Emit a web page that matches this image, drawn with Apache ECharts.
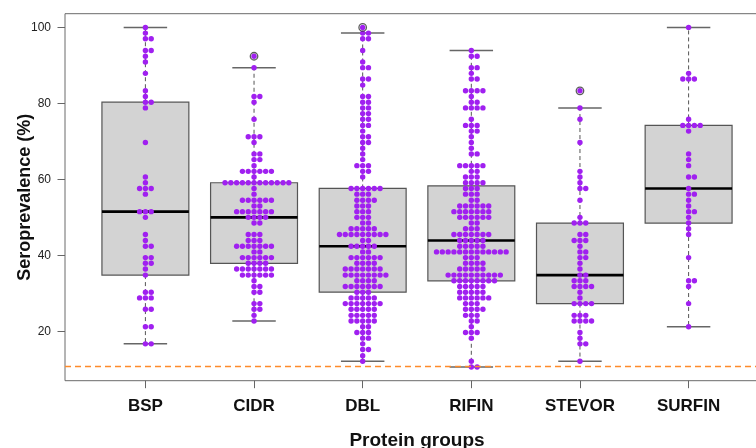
<!DOCTYPE html>
<html>
<head>
<meta charset="utf-8">
<script src="https://cdn.jsdelivr.net/npm/echarts@6/dist/echarts.min.js"></script>
<style>
  html, body { margin: 0; padding: 0; background: #fff; }
  #chart { width: 756px; height: 448px; }
</style>
</head>
<body>
<div id="chart"></div>
<script>
const groups = ["BSP", "CIDR", "DBL", "RIFIN", "STEVOR", "SURFIN"];

// [seroprevalence %, number of proteins at that level]
const bspRows = [
  [100, 1], [98.5, 1], [97.0, 2], [93.9, 2], [92.4, 1], [90.9, 1], [87.9, 1], [83.3, 1],
  [81.8, 1], [80.3, 2], [78.8, 1], [69.7, 1], [60.6, 1], [59.1, 1], [57.6, 3], [56.1, 1],
  [51.5, 3], [50.0, 1], [45.5, 1], [43.9, 1], [42.4, 2], [39.4, 2], [37.9, 2], [36.4, 1],
  [34.8, 1], [30.3, 2], [28.8, 3], [25.8, 2], [21.2, 2], [16.7, 2]
];
const cidrRows = [
  [92.4, 1], [89.4, 1], [81.8, 2], [80.3, 1], [75.8, 1], [71.2, 3], [69.7, 1], [66.7, 2],
  [65.2, 2], [63.6, 1], [62.1, 6], [60.6, 1], [59.1, 12], [57.6, 1], [56.1, 1], [54.5, 6],
  [53.0, 2], [51.5, 7], [50.0, 4], [48.5, 2], [45.5, 3], [43.9, 3], [42.4, 7], [40.9, 2],
  [39.4, 6], [37.9, 4], [36.4, 7], [34.8, 6], [33.3, 1], [31.8, 2], [30.3, 2], [27.3, 2],
  [25.8, 2], [24.2, 1], [22.7, 1]
];
const dblRows = [
  [100, 1], [98.5, 2], [97.0, 2], [93.9, 1], [90.9, 1], [89.4, 2], [86.4, 2], [84.8, 1],
  [81.8, 2], [80.3, 2], [78.8, 2], [77.3, 2], [75.8, 2], [74.2, 2], [72.7, 1], [71.2, 2],
  [69.7, 2], [68.2, 1], [66.7, 1], [65.2, 1], [63.6, 3], [62.1, 2], [60.6, 1], [57.6, 6],
  [56.1, 3], [54.5, 4], [53.0, 3], [51.5, 3], [50.0, 3], [48.5, 2], [47.0, 5], [45.5, 9],
  [43.9, 2], [42.4, 5], [40.9, 2], [39.4, 6], [37.9, 4], [36.4, 7], [34.8, 8], [33.3, 4],
  [31.8, 7], [30.3, 3], [28.8, 5], [27.3, 7], [25.8, 5], [24.2, 5], [22.7, 5], [21.2, 2],
  [19.7, 3], [18.2, 2], [16.7, 1], [15.2, 2], [13.6, 1], [12.1, 1]
];
const rifinRows = [
  [93.9, 1], [92.4, 2], [89.4, 2], [87.9, 1], [86.4, 2], [83.3, 4], [81.8, 1], [80.3, 2],
  [78.8, 4], [75.8, 1], [74.2, 3], [72.7, 2], [71.2, 1], [69.7, 1], [68.2, 1], [66.7, 2],
  [63.6, 5], [62.1, 2], [60.6, 3], [59.1, 4], [57.6, 3], [56.1, 3], [54.5, 2], [53.0, 6],
  [51.5, 7], [50.0, 6], [48.5, 2], [47.0, 3], [45.5, 7], [43.9, 5], [42.4, 5], [40.9, 13],
  [39.4, 3], [37.9, 4], [36.4, 5], [34.8, 10], [33.3, 8], [31.8, 5], [30.3, 5], [28.8, 6],
  [27.3, 3], [25.8, 4], [24.2, 3], [22.7, 2], [21.2, 1], [19.7, 3], [18.2, 1], [12.1, 1],
  [10.6, 2]
];
const stevorRows = [
  [83.3, 1], [78.8, 1], [75.8, 1], [69.7, 1], [62.1, 1], [60.6, 1], [59.1, 1], [57.6, 2],
  [54.5, 1], [50.0, 1], [48.5, 3], [45.5, 2], [43.9, 3], [42.4, 1], [40.9, 2], [39.4, 2],
  [37.9, 1], [36.4, 1], [34.8, 2], [33.3, 3], [31.8, 4], [30.3, 1], [28.8, 1], [27.3, 4],
  [24.2, 3], [22.7, 4], [19.7, 1], [18.2, 1], [16.7, 2], [12.1, 1]
];
const surfinRows = [
  [100, 1], [87.9, 1], [86.4, 3], [75.8, 1], [74.2, 4], [72.7, 1], [66.7, 1], [65.2, 1],
  [63.6, 1], [60.6, 2], [57.6, 1], [56.1, 2], [54.5, 1], [53.0, 1], [51.5, 2], [50.0, 1],
  [48.5, 1], [47.0, 1], [45.5, 1], [39.4, 1], [33.3, 2], [31.8, 1], [27.3, 1], [21.2, 1]
];

// [lower whisker, Q1, median, Q3, upper whisker] per group
const boxStats = [
  [16.7, 34.8, 51.5, 80.3, 100],
  [22.7, 37.9, 50.0, 59.1, 89.4],
  [12.1, 30.3, 42.4, 57.6, 98.5],
  [10.6, 33.3, 43.9, 58.3, 93.9],
  [12.1, 27.3, 34.8, 48.5, 78.8],
  [21.2, 48.5, 57.6, 74.2, 100]
];
const outlierGroups = ["CIDR", "DBL", "STEVOR"];
const outlierValues = [92.4, 100, 83.3];
const cutoff = 10.8;
const yTicks = [20, 40, 60, 80, 100];

const DOT_GAP = 5.8;
const PURPLE = "#A020F0";
const FONT = "'Liberation Sans', Arial, Helvetica, sans-serif";

// beeswarm: points sharing a value go centre, right, left, right, left...
const dots = [];
[bspRows, cidrRows, dblRows, rifinRows, stevorRows, surfinRows].forEach((rows, g) => {
  rows.forEach(([v, n]) => {
    for (let i = 0; i < n; i++) {
      const slot = i === 0 ? 0 : (i % 2 ? (i + 1) / 2 : -i / 2);
      dots.push([g + 1, v, slot]);
    }
  });
});
const boxes = boxStats.map((s, g) => [g + 1, ...s]);
const outliers = outlierGroups.map((name, i) => [groups.indexOf(name) + 1, outlierValues[i]]);

function renderBox(params, api) {
  const x = api.value(0);
  const [cx, yLow] = api.coord([x, api.value(1)]);
  const yQ1 = api.coord([x, api.value(2)])[1];
  const yMed = api.coord([x, api.value(3)])[1];
  const yQ3 = api.coord([x, api.value(4)])[1];
  const yHigh = api.coord([x, api.value(5)])[1];
  const left = api.coord([x - 0.4, 0])[0];
  const right = api.coord([x + 0.4, 0])[0];
  const capL = api.coord([x - 0.2, 0])[0];
  const capR = api.coord([x + 0.2, 0])[0];
  const dash = { stroke: "#555", lineWidth: 1, lineDash: [4, 3] };
  const solid = { stroke: "#666", lineWidth: 1.5 };
  return {
    type: "group",
    children: [
      { type: "line", shape: { x1: cx, y1: yQ3, x2: cx, y2: yHigh }, style: dash },
      { type: "line", shape: { x1: cx, y1: yQ1, x2: cx, y2: yLow }, style: dash },
      { type: "line", shape: { x1: capL, y1: yHigh, x2: capR, y2: yHigh }, style: solid },
      { type: "line", shape: { x1: capL, y1: yLow, x2: capR, y2: yLow }, style: solid },
      {
        type: "rect",
        shape: { x: left, y: yQ3, width: right - left, height: yQ1 - yQ3 },
        style: { fill: "#D3D3D3", stroke: "#555", lineWidth: 1.2 }
      },
      { type: "line", shape: { x1: left, y1: yMed, x2: right, y2: yMed }, style: { stroke: "#000", lineWidth: 2.6 } }
    ]
  };
}

function renderDot(params, api) {
  const c = api.coord([api.value(0), api.value(1)]);
  return {
    type: "circle",
    shape: { cx: c[0] + api.value(2) * DOT_GAP, cy: c[1], r: 2.7 },
    style: { fill: PURPLE }
  };
}

const chart = echarts.init(document.getElementById("chart"), null, { renderer: "canvas" });
chart.setOption({
  animation: false,
  backgroundColor: "#fff",
  textStyle: { fontFamily: FONT },
  grid: {
    left: 65, top: 13.7, width: 704, height: 367,
    outerBoundsMode: "none",
    containLabel: false,
    show: true, borderColor: "#6a6a6a", borderWidth: 1, backgroundColor: "transparent"
  },
  xAxis: {
    type: "value",
    min: 0.26,
    max: 6.74,
    name: "Protein groups",
    nameLocation: "middle",
    nameGap: 51,
    nameMoveOverlap: false,
    nameTextStyle: { fontFamily: FONT, fontWeight: "bold", fontSize: 19, color: "#111" },
    axisLine: { show: false },
    axisTick: { show: true, length: 7.5, customValues: [1, 2, 3, 4, 5, 6], lineStyle: { color: "#666" } },
    axisLabel: {
      customValues: [1, 2, 3, 4, 5, 6],
      formatter: (v) => groups[Math.round(v) - 1] || "",
      margin: 17,
      fontFamily: FONT, fontWeight: "bold", fontSize: 17, color: "#111"
    },
    splitLine: { show: false }
  },
  yAxis: {
    type: "value",
    min: 7.0,
    max: 103.6,
    name: "Seroprevalence (%)",
    nameLocation: "middle",
    nameGap: 31,
    nameMoveOverlap: false,
    nameTextStyle: { fontFamily: FONT, fontWeight: "bold", fontSize: 18, color: "#111" },
    axisLine: { show: false },
    axisTick: { show: true, length: 7.5, customValues: yTicks, lineStyle: { color: "#666" } },
    axisLabel: { customValues: yTicks, margin: 14, fontFamily: FONT, fontSize: 12, color: "#222" },
    splitLine: { show: false }
  },
  series: [
    {
      type: "custom",
      name: "boxes",
      renderItem: renderBox,
      encode: { x: 0, y: [1, 2, 3, 4, 5] },
      data: boxes,
      silent: true
    },
    {
      type: "scatter",
      name: "outliers",
      symbol: "circle",
      symbolSize: 7.5,
      itemStyle: { color: "rgba(0,0,0,0)", borderColor: "#333", borderWidth: 1.3 },
      data: outliers,
      silent: true,
      markLine: {
        silent: true,
        symbol: "none",
        label: { show: false },
        lineStyle: { color: "#FF8A2A", type: [6, 4], width: 1.3 },
        data: [{ yAxis: cutoff }]
      }
    },
    {
      type: "custom",
      name: "proteins",
      renderItem: renderDot,
      encode: { x: 0, y: 1 },
      data: dots,
      silent: true
    }
  ]
});
</script>
</body>
</html>
